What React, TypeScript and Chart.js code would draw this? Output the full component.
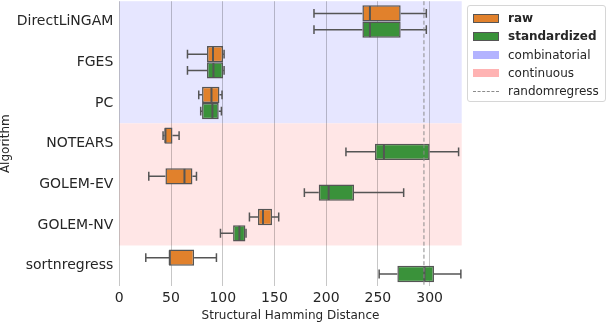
import React, { useEffect, useRef } from 'react';
import { Chart, registerables } from 'chart.js';

Chart.register(...registerables);

// ---------- data ----------
const categories = ['DirectLiNGAM', 'FGES', 'PC', 'NOTEARS', 'GOLEM-EV', 'GOLEM-NV', 'sortnregress'];

const rawLow = [188.2, 65.9, 76.8, 42.3, 28.5, 125.8, 25.6];
const rawQ1 = [235, 84.8, 80, 43.7, 44.6, 134.1, 48.1];
const rawMedian = [242.3, 90.6, 89.1, 44.6, 63, 138.9, 48.8];
const rawQ3 = [272, 100.3, 96.8, 51.4, 70.7, 147.6, 72.3];
const rawHigh = [296.8, 101.3, 99.3, 57.8, 74.6, 154.1, 93.9];

const stdLow = [188.2, 65.9, 78.7, 219.1, 178.9, 97.8, 251.2];
const stdQ1 = [235, 84.8, 80, 247.2, 192.8, 110, 268.8];
const stdMedian = [242.3, 91, 90, 255.8, 202.4, 116.1, 295];
const stdQ3 = [272, 100.3, 96.1, 300, 226.9, 121.9, 304.2];
const stdHigh = [296.8, 101.3, 98.7, 328, 274.9, 122.5, 330.2];

const randomRegress = 294.5;
const xMin = 0;
const xMax = 331;
const xTickValues = [0, 50, 100, 150, 200, 250, 300];

// category index ranges for background bands
const combinatorialRange = [-0.5, 2.5];
const continuousRange = [2.5, 5.5];

// ---------- styles ----------
const ORANGE = '#e1812c';
const GREEN = '#3a923a';
const EDGE = '#555555';
const TEXT = '#262626';
const FONT = "'DejaVu Sans', sans-serif";
const BAND_BLUE = '#e6e6ff';
const BAND_RED = '#ffe6e6';

const bandPlugin = {
  id: 'bands',
  beforeDraw(chart: any) {
    const { ctx, chartArea, scales } = chart;
    const ys = scales.y;
    const draw = (r: number[], color: string) => {
      const top = ys.getPixelForValue(r[0]);
      const bottom = ys.getPixelForValue(r[1]);
      ctx.save();
      ctx.fillStyle = color;
      ctx.fillRect(chartArea.left, top, chartArea.right - chartArea.left, bottom - top);
      ctx.restore();
    };
    draw(combinatorialRange, BAND_BLUE);
    draw(continuousRange, BAND_RED);
  },
};

const boxPlugin = {
  id: 'boxWhiskers',
  afterDatasetsDraw(chart: any) {
    const { ctx, scales, chartArea } = chart;
    const xs = scales.x;
    const stats = [
      { low: rawLow, med: rawMedian, high: rawHigh },
      { low: stdLow, med: stdMedian, high: stdHigh },
    ];
    stats.forEach((s, d) => {
      const meta = chart.getDatasetMeta(d);
      meta.data.forEach((el: any, i: number) => {
        const { x, base, y, height } = el.getProps(['x', 'base', 'y', 'height'], true);
        const left = Math.min(x, base);
        const right = Math.max(x, base);
        const lo = xs.getPixelForValue(s.low[i]);
        const hi = xs.getPixelForValue(s.high[i]);
        const med = xs.getPixelForValue(s.med[i]);
        const cap = height * 0.27;
        ctx.save();
        ctx.strokeStyle = EDGE;
        ctx.lineWidth = 1.5;
        ctx.beginPath();
        ctx.moveTo(lo, y);
        ctx.lineTo(left, y);
        ctx.moveTo(right, y);
        ctx.lineTo(hi, y);
        ctx.moveTo(lo, y - cap);
        ctx.lineTo(lo, y + cap);
        ctx.moveTo(hi, y - cap);
        ctx.lineTo(hi, y + cap);
        ctx.stroke();
        ctx.lineWidth = 2;
        ctx.beginPath();
        ctx.moveTo(med, y - height / 2 + 0.75);
        ctx.lineTo(med, y + height / 2 - 0.75);
        ctx.stroke();
        ctx.restore();
      });
    });
    const rx = xs.getPixelForValue(randomRegress);
    ctx.save();
    ctx.strokeStyle = '#8c8c8c';
    ctx.lineWidth = 1;
    ctx.setLineDash([4, 2.5]);
    ctx.beginPath();
    ctx.moveTo(rx, chartArea.top);
    ctx.lineTo(rx, chartArea.bottom);
    ctx.stroke();
    ctx.restore();
  },
};

function Legend() {
  const row = (top: number, swatch: React.ReactNode, label: string, bold: boolean) => (
    <div style={{ position: 'absolute', left: 0, top, height: 18, width: 138 }}>
      <div style={{ position: 'absolute', left: 5, top: 0, width: 26, height: 18, display: 'flex', alignItems: 'center' }}>
        {swatch}
      </div>
      <div
        style={{
          position: 'absolute',
          left: 40,
          top: 0,
          height: 18,
          lineHeight: '18px',
          fontFamily: FONT,
          fontSize: 12,
          fontWeight: bold ? 'bold' : 'normal',
          color: TEXT,
          whiteSpace: 'nowrap',
        }}
      >
        {label}
      </div>
    </div>
  );
  const patch = (fill: string, border: boolean) => (
    <div
      style={{
        width: 26,
        height: border ? 9 : 8,
        boxSizing: 'border-box',
        background: fill,
        border: border ? `1.5px solid ${EDGE}` : 'none',
      }}
    />
  );
  return (
    <div
      style={{
        position: 'absolute',
        left: 467,
        top: 5,
        width: 139,
        height: 97,
        boxSizing: 'border-box',
        border: '1px solid #d6d6d6',
        borderRadius: 3,
        background: 'rgba(255,255,255,0.85)',
      }}
    >
      {row(3, patch(ORANGE, true), 'raw', true)}
      {row(21.3, patch(GREEN, true), 'standardized', true)}
      {row(39.6, patch('#b3b3ff', false), 'combinatorial', false)}
      {row(57.9, patch('#ffb3b3', false), 'continuous', false)}
      {row(
        76.2,
        <div style={{ width: 26, height: 0, borderTop: '1px dashed #8c8c8c' }} />,
        'randomregress',
        false
      )}
    </div>
  );
}

export default function App() {
  const canvasRef = useRef<HTMLCanvasElement | null>(null);

  useEffect(() => {
    const canvas = canvasRef.current;
    if (!canvas) return;
    const chart = new Chart(canvas, {
      type: 'bar',
      data: {
        labels: categories,
        datasets: [
          {
            label: 'raw',
            data: rawQ1.map((v, i) => [v, rawQ3[i]]) as any,
            backgroundColor: ORANGE,
            borderColor: EDGE,
            borderWidth: 1.5,
            borderSkipped: false,
            categoryPercentage: 0.8,
            barPercentage: 1.0,
          },
          {
            label: 'standardized',
            data: stdQ1.map((v, i) => [v, stdQ3[i]]) as any,
            backgroundColor: GREEN,
            borderColor: EDGE,
            borderWidth: 1.5,
            borderSkipped: false,
            categoryPercentage: 0.8,
            barPercentage: 1.0,
          },
        ],
      },
      options: {
        indexAxis: 'y',
        responsive: false,
        animation: false,
        devicePixelRatio: 1,
        layout: { padding: { top: 1.2, right: 146.3, left: 0, bottom: 0 } },
        plugins: {
          legend: { display: false },
          tooltip: { enabled: false },
        },
        scales: {
          x: {
            type: 'linear',
            min: xMin,
            max: xMax,
            afterBuildTicks: (scale: any) => {
              scale.ticks = xTickValues.map((v) => ({ value: v }));
            },
            ticks: {
              color: TEXT,
              font: { family: FONT, size: 14 },
              padding: 4,
            },
            grid: { color: 'rgba(0,0,0,0.22)', lineWidth: 1, drawTicks: false },
            border: { display: false },
            title: {
              display: true,
              text: 'Structural Hamming Distance',
              color: TEXT,
              font: { family: FONT, size: 12, lineHeight: 1 },
              padding: 0,
            },
            afterFit: (scale: any) => {
              scale.height = 35.8;
              scale.paddingLeft = 0;
              scale.paddingRight = 0;
            },
          },
          y: {
            type: 'category',
            ticks: {
              color: TEXT,
              font: { family: FONT, size: 14 },
              padding: 6,
            },
            grid: { display: false, drawTicks: false },
            border: { display: false },
            title: {
              display: true,
              text: 'Algorithm',
              color: TEXT,
              font: { family: FONT, size: 12, lineHeight: 1 },
              padding: 0,
            },
            afterFit: (scale: any) => {
              scale.width = 119.3;
              scale.paddingTop = 0;
              scale.paddingBottom = 0;
            },
          },
        },
      },
      plugins: [bandPlugin, boxPlugin],
    });
    return () => chart.destroy();
  }, []);

  return (
    <div style={{ position: 'fixed', left: 0, top: 0, width: 608, height: 322, background: '#ffffff' }}>
      <canvas ref={canvasRef} width={608} height={322} style={{ width: 608, height: 322, display: 'block' }} />
      <Legend />
    </div>
  );
}
